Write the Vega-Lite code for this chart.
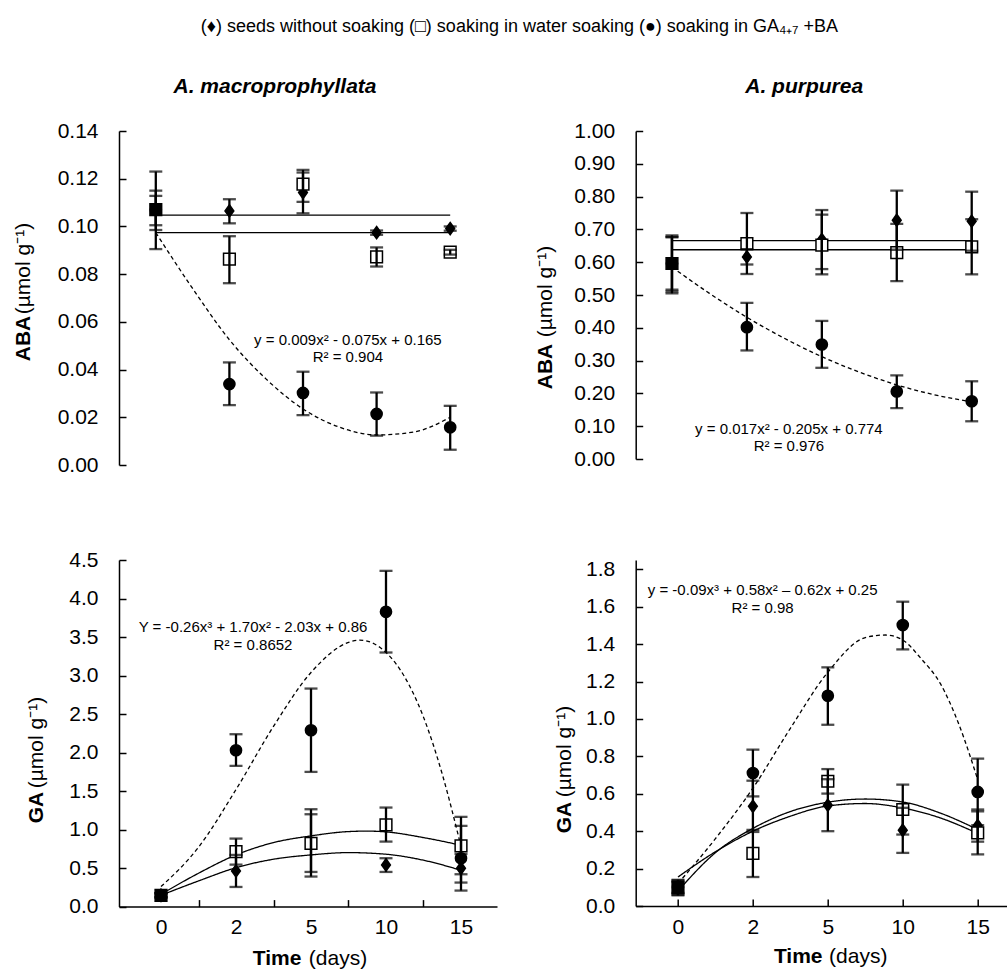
{
  "$schema": "https://vega.github.io/schema/vega-lite/v6.json",
  "padding": {"left": 12, "top": 18, "right": 0, "bottom": 0},
  "title": {"text": "(♦) seeds without soaking (□) soaking in water soaking (●) soaking in GA₄₊₇ +BA", "font": "Liberation Sans", "fontSize": 18, "fontWeight": "normal", "color": "black", "anchor": "middle", "offset": 40, "dx": 10},
  "datasets": {
    "pts": [
      {"p": "TL", "s": "D", "t": 1, "v": 0.107, "lo": 0.1005, "hi": 0.1128},
      {"p": "TL", "s": "D", "t": 2, "v": 0.1065, "lo": 0.1013, "hi": 0.1114},
      {"p": "TL", "s": "D", "t": 3, "v": 0.1142, "lo": 0.1055, "hi": 0.1226},
      {"p": "TL", "s": "D", "t": 4, "v": 0.0974, "lo": 0.0965, "hi": 0.0983},
      {"p": "TL", "s": "D", "t": 5, "v": 0.0991, "lo": 0.0982, "hi": 0.1},
      {"p": "TL", "s": "G", "t": 1, "v": 0.107, "lo": 0.0985, "hi": 0.115},
      {"p": "TL", "s": "G", "t": 2, "v": 0.0339, "lo": 0.0251, "hi": 0.043},
      {"p": "TL", "s": "G", "t": 3, "v": 0.0302, "lo": 0.0209, "hi": 0.0391},
      {"p": "TL", "s": "G", "t": 4, "v": 0.0214, "lo": 0.0123, "hi": 0.0304},
      {"p": "TL", "s": "G", "t": 5, "v": 0.0158, "lo": 0.0064, "hi": 0.0248},
      {"p": "TL", "s": "W", "t": 1, "v": 0.107, "lo": 0.0905, "hi": 0.123},
      {"p": "TL", "s": "W", "t": 2, "v": 0.0863, "lo": 0.0762, "hi": 0.0959},
      {"p": "TL", "s": "W", "t": 3, "v": 0.1177, "lo": 0.1103, "hi": 0.1237},
      {"p": "TL", "s": "W", "t": 4, "v": 0.0872, "lo": 0.0832, "hi": 0.0912},
      {"p": "TL", "s": "W", "t": 5, "v": 0.0892, "lo": 0.0882, "hi": 0.0902},
      {"p": "TR", "s": "D", "t": 1, "v": 0.596, "lo": 0.51, "hi": 0.682},
      {"p": "TR", "s": "D", "t": 2, "v": 0.616, "lo": 0.593, "hi": 0.639},
      {"p": "TR", "s": "D", "t": 3, "v": 0.669, "lo": 0.579, "hi": 0.759},
      {"p": "TR", "s": "D", "t": 4, "v": 0.728, "lo": 0.638, "hi": 0.818},
      {"p": "TR", "s": "D", "t": 5, "v": 0.725, "lo": 0.635, "hi": 0.815},
      {"p": "TR", "s": "G", "t": 1, "v": 0.596, "lo": 0.516, "hi": 0.676},
      {"p": "TR", "s": "G", "t": 2, "v": 0.402, "lo": 0.331, "hi": 0.476},
      {"p": "TR", "s": "G", "t": 3, "v": 0.349, "lo": 0.278, "hi": 0.421},
      {"p": "TR", "s": "G", "t": 4, "v": 0.206, "lo": 0.155, "hi": 0.255},
      {"p": "TR", "s": "G", "t": 5, "v": 0.176, "lo": 0.115, "hi": 0.237},
      {"p": "TR", "s": "W", "t": 1, "v": 0.596, "lo": 0.505, "hi": 0.677},
      {"p": "TR", "s": "W", "t": 2, "v": 0.657, "lo": 0.564, "hi": 0.75},
      {"p": "TR", "s": "W", "t": 3, "v": 0.652, "lo": 0.563, "hi": 0.745},
      {"p": "TR", "s": "W", "t": 4, "v": 0.629, "lo": 0.542, "hi": 0.717},
      {"p": "TR", "s": "W", "t": 5, "v": 0.647, "lo": 0.563, "hi": 0.731},
      {"p": "BL", "s": "D", "t": 1, "v": 0.147, "lo": 0.12, "hi": 0.175},
      {"p": "BL", "s": "D", "t": 2, "v": 0.463, "lo": 0.255, "hi": 0.671},
      {"p": "BL", "s": "D", "t": 3, "v": 0.825, "lo": 0.45, "hi": 1.199},
      {"p": "BL", "s": "D", "t": 4, "v": 0.541, "lo": 0.45, "hi": 0.628},
      {"p": "BL", "s": "D", "t": 5, "v": 0.498, "lo": 0.312, "hi": 0.684},
      {"p": "BL", "s": "G", "t": 1, "v": 0.147, "lo": 0.12, "hi": 0.175},
      {"p": "BL", "s": "G", "t": 2, "v": 2.03, "lo": 1.827, "hi": 2.238},
      {"p": "BL", "s": "G", "t": 3, "v": 2.29, "lo": 1.749, "hi": 2.831},
      {"p": "BL", "s": "G", "t": 4, "v": 3.827, "lo": 3.299, "hi": 4.359},
      {"p": "BL", "s": "G", "t": 5, "v": 0.628, "lo": 0.208, "hi": 1.048},
      {"p": "BL", "s": "W", "t": 1, "v": 0.147, "lo": 0.12, "hi": 0.175},
      {"p": "BL", "s": "W", "t": 2, "v": 0.714, "lo": 0.545, "hi": 0.883},
      {"p": "BL", "s": "W", "t": 3, "v": 0.822, "lo": 0.39, "hi": 1.264},
      {"p": "BL", "s": "W", "t": 4, "v": 1.06, "lo": 0.844, "hi": 1.286},
      {"p": "BL", "s": "W", "t": 5, "v": 0.788, "lo": 0.42, "hi": 1.165},
      {"p": "BR", "s": "D", "t": 1, "v": 0.1, "lo": 0.06, "hi": 0.14},
      {"p": "BR", "s": "D", "t": 2, "v": 0.533, "lo": 0.396, "hi": 0.67},
      {"p": "BR", "s": "D", "t": 3, "v": 0.539, "lo": 0.4, "hi": 0.678},
      {"p": "BR", "s": "D", "t": 4, "v": 0.405, "lo": 0.284, "hi": 0.525},
      {"p": "BR", "s": "D", "t": 5, "v": 0.43, "lo": 0.344, "hi": 0.516},
      {"p": "BR", "s": "G", "t": 1, "v": 0.1, "lo": 0.07, "hi": 0.13},
      {"p": "BR", "s": "G", "t": 2, "v": 0.711, "lo": 0.586, "hi": 0.836},
      {"p": "BR", "s": "G", "t": 3, "v": 1.124, "lo": 0.969, "hi": 1.276},
      {"p": "BR", "s": "G", "t": 4, "v": 1.502, "lo": 1.372, "hi": 1.627},
      {"p": "BR", "s": "G", "t": 5, "v": 0.61, "lo": 0.432, "hi": 0.788},
      {"p": "BR", "s": "W", "t": 1, "v": 0.098, "lo": 0.057, "hi": 0.137},
      {"p": "BR", "s": "W", "t": 2, "v": 0.281, "lo": 0.155, "hi": 0.407},
      {"p": "BR", "s": "W", "t": 3, "v": 0.667, "lo": 0.601, "hi": 0.732},
      {"p": "BR", "s": "W", "t": 4, "v": 0.516, "lo": 0.382, "hi": 0.649},
      {"p": "BR", "s": "W", "t": 5, "v": 0.391, "lo": 0.276, "hi": 0.506}
    ],
    "fits": [
      {"p": "TL", "s": "D", "t": 1, "v": 0.1047}, {"p": "TL", "s": "D", "t": 5, "v": 0.1047},
      {"p": "TL", "s": "W", "t": 1, "v": 0.0974}, {"p": "TL", "s": "W", "t": 5, "v": 0.0974},
      {"p": "TL", "s": "G", "t": 1, "v": 0.0974}, {"p": "TL", "s": "G", "t": 1.5, "v": 0.074},
      {"p": "TL", "s": "G", "t": 2, "v": 0.0525}, {"p": "TL", "s": "G", "t": 2.5, "v": 0.036},
      {"p": "TL", "s": "G", "t": 3, "v": 0.0235}, {"p": "TL", "s": "G", "t": 3.5, "v": 0.0158},
      {"p": "TL", "s": "G", "t": 4, "v": 0.0126}, {"p": "TL", "s": "G", "t": 4.5, "v": 0.0138},
      {"p": "TL", "s": "G", "t": 5, "v": 0.02},
      {"p": "TR", "s": "D", "t": 1, "v": 0.666}, {"p": "TR", "s": "D", "t": 5, "v": 0.666},
      {"p": "TR", "s": "W", "t": 1, "v": 0.638}, {"p": "TR", "s": "W", "t": 5, "v": 0.638},
      {"p": "TR", "s": "G", "t": 1, "v": 0.585}, {"p": "TR", "s": "G", "t": 1.5, "v": 0.505},
      {"p": "TR", "s": "G", "t": 2, "v": 0.432}, {"p": "TR", "s": "G", "t": 2.5, "v": 0.368},
      {"p": "TR", "s": "G", "t": 3, "v": 0.312}, {"p": "TR", "s": "G", "t": 3.5, "v": 0.265},
      {"p": "TR", "s": "G", "t": 4, "v": 0.226}, {"p": "TR", "s": "G", "t": 4.5, "v": 0.196},
      {"p": "TR", "s": "G", "t": 5, "v": 0.174},
      {"p": "BL", "s": "W", "t": 1, "v": 0.16}, {"p": "BL", "s": "W", "t": 1.5, "v": 0.433},
      {"p": "BL", "s": "W", "t": 2, "v": 0.671}, {"p": "BL", "s": "W", "t": 2.5, "v": 0.831},
      {"p": "BL", "s": "W", "t": 3, "v": 0.918}, {"p": "BL", "s": "W", "t": 3.5, "v": 0.974},
      {"p": "BL", "s": "W", "t": 3.75, "v": 0.98}, {"p": "BL", "s": "W", "t": 4, "v": 0.97},
      {"p": "BL", "s": "W", "t": 4.5, "v": 0.896}, {"p": "BL", "s": "W", "t": 5, "v": 0.797},
      {"p": "BL", "s": "D", "t": 1, "v": 0.147}, {"p": "BL", "s": "D", "t": 1.5, "v": 0.333},
      {"p": "BL", "s": "D", "t": 2, "v": 0.505}, {"p": "BL", "s": "D", "t": 2.5, "v": 0.615},
      {"p": "BL", "s": "D", "t": 3, "v": 0.671}, {"p": "BL", "s": "D", "t": 3.5, "v": 0.701},
      {"p": "BL", "s": "D", "t": 4, "v": 0.68}, {"p": "BL", "s": "D", "t": 4.5, "v": 0.602},
      {"p": "BL", "s": "D", "t": 5, "v": 0.472},
      {"p": "BL", "s": "G", "t": 1, "v": 0.26}, {"p": "BL", "s": "G", "t": 1.5, "v": 0.77},
      {"p": "BL", "s": "G", "t": 2, "v": 1.52}, {"p": "BL", "s": "G", "t": 2.5, "v": 2.34},
      {"p": "BL", "s": "G", "t": 3, "v": 3.04}, {"p": "BL", "s": "G", "t": 3.5, "v": 3.43},
      {"p": "BL", "s": "G", "t": 3.65, "v": 3.46}, {"p": "BL", "s": "G", "t": 4, "v": 3.3},
      {"p": "BL", "s": "G", "t": 4.25, "v": 2.98}, {"p": "BL", "s": "G", "t": 4.5, "v": 2.46},
      {"p": "BL", "s": "G", "t": 4.75, "v": 1.72}, {"p": "BL", "s": "G", "t": 5, "v": 0.78},
      {"p": "BR", "s": "W", "t": 1, "v": 0.08}, {"p": "BR", "s": "W", "t": 1.5, "v": 0.285},
      {"p": "BR", "s": "W", "t": 2, "v": 0.415}, {"p": "BR", "s": "W", "t": 2.5, "v": 0.505},
      {"p": "BR", "s": "W", "t": 3, "v": 0.555}, {"p": "BR", "s": "W", "t": 3.5, "v": 0.572},
      {"p": "BR", "s": "W", "t": 4, "v": 0.556}, {"p": "BR", "s": "W", "t": 4.5, "v": 0.497},
      {"p": "BR", "s": "W", "t": 5, "v": 0.409},
      {"p": "BR", "s": "D", "t": 1, "v": 0.155}, {"p": "BR", "s": "D", "t": 1.5, "v": 0.29},
      {"p": "BR", "s": "D", "t": 2, "v": 0.4}, {"p": "BR", "s": "D", "t": 2.5, "v": 0.48},
      {"p": "BR", "s": "D", "t": 3, "v": 0.535}, {"p": "BR", "s": "D", "t": 3.5, "v": 0.548},
      {"p": "BR", "s": "D", "t": 4, "v": 0.524}, {"p": "BR", "s": "D", "t": 4.5, "v": 0.471},
      {"p": "BR", "s": "D", "t": 5, "v": 0.388},
      {"p": "BR", "s": "G", "t": 1, "v": 0.12}, {"p": "BR", "s": "G", "t": 1.5, "v": 0.36},
      {"p": "BR", "s": "G", "t": 2, "v": 0.63}, {"p": "BR", "s": "G", "t": 2.5, "v": 0.95},
      {"p": "BR", "s": "G", "t": 3, "v": 1.25}, {"p": "BR", "s": "G", "t": 3.5, "v": 1.435},
      {"p": "BR", "s": "G", "t": 3.77, "v": 1.449}, {"p": "BR", "s": "G", "t": 4, "v": 1.422},
      {"p": "BR", "s": "G", "t": 4.25, "v": 1.32}, {"p": "BR", "s": "G", "t": 4.5, "v": 1.19},
      {"p": "BR", "s": "G", "t": 4.75, "v": 0.97}, {"p": "BR", "s": "G", "t": 5, "v": 0.676}
    ],
    "eqs": [
      {"p": "TL", "t": 3.61, "v": 0.0526, "text": "y = 0.009x² - 0.075x + 0.165\nR² = 0.904"},
      {"p": "TR", "t": 2.56, "v": 0.0917, "text": "y = 0.017x² - 0.205x + 0.774\nR² = 0.976"},
      {"p": "BL", "t": 2.227, "v": 3.626, "text": "Y = -0.26x³ + 1.70x² - 2.03x + 0.86\nR² = 0.8652"},
      {"p": "BR", "t": 2.13, "v": 1.689, "text": "y = -0.09x³ + 0.58x² – 0.62x + 0.25\nR² = 0.98"}
    ]
  },
  "concat": [
    {
      "width": 368, "height": 334,
      "title": {"text": "A. macroprophyllata", "font": "Liberation Sans", "fontSize": 21, "fontStyle": "italic", "fontWeight": "bold", "color": "black", "frame": "group", "anchor": "middle", "dx": -28, "offset": 6, "baseline": "alphabetic"},
      "resolve": {"axis": {"y": "independent"}},
      "layer": [
        {"data": {"name": "fits"}, "transform": [{"filter": "datum.p === 'TL'"}],
         "mark": {"type": "line", "interpolate": "monotone", "color": "black"},
         "encoding": {
           "x": {"field": "t", "type": "quantitative", "scale": {"domain": [0.5, 5.5], "nice": false, "zero": false},
                 "axis": {"title": null, "values": [1, 2, 3, 4, 5, 5.5], "labelExpr": "datum.value == 1 ? '0' : datum.value == 2 ? '2' : datum.value == 3 ? '5' : datum.value == 4 ? '10' : datum.value == 5 ? '15' : ''", "tickSize": -5, "labelPadding": 17, "labelOverlap": false, "labelFlush": false}},
           "y": {"field": "v", "type": "quantitative", "scale": {"domain": [0, 0.14], "nice": false, "zero": false},
                 "axis": {"values": [0, 0.02, 0.04, 0.06, 0.08, 0.1, 0.12, 0.14], "format": ".2f", "tickSize": -7, "labelPadding": 28, "title": "ABA", "titleFontWeight": "bold", "titleX": -90, "titleY": 207, "titleAngle": 270, "titleAlign": "center", "titleBaseline": "alphabetic"}},
           "detail": {"field": "s"},
           "strokeDash": {"field": "s", "type": "nominal", "scale": {"domain": ["D", "W", "G"], "range": [[1, 0], [1, 0], [4, 3]]}, "legend": null},
           "strokeWidth": {"field": "s", "type": "nominal", "scale": {"domain": ["D", "W", "G"], "range": [1.3, 1.3, 1.1]}, "legend": null}
         }},
        {"data": {"name": "pts"}, "transform": [{"filter": "datum.p === 'TL'"}],
         "mark": {"type": "point", "filled": true, "opacity": 1, "stroke": "black", "strokeWidth": 1.5},
         "encoding": {
           "x": {"field": "t", "type": "quantitative", "axis": null},
           "y": {"field": "v", "type": "quantitative", "axis": null},
           "shape": {"field": "s", "type": "nominal", "scale": {"domain": ["D", "W", "G"], "range": ["M0,-1L0.72,0L0,1L-0.72,0Z", "square", "circle"]}, "legend": null},
           "size": {"field": "s", "type": "nominal", "scale": {"domain": ["D", "W", "G"], "range": [150, 125, 135]}, "legend": null},
           "fill": {"condition": {"test": "datum.s === 'W' && datum.t !== 1", "value": "white"}, "value": "black"}
         }},
        {"data": {"name": "pts"}, "transform": [{"filter": "datum.p === 'TL'"}],
         "mark": {"type": "errorbar", "thickness": 2.3, "color": "black", "ticks": {"size": 13, "thickness": 2.3, "color": "black"}, "rule": {"color": "black", "strokeWidth": 2.3}},
         "encoding": {
           "x": {"field": "t", "type": "quantitative", "axis": null},
           "y": {"field": "lo", "type": "quantitative", "axis": null},
           "y2": {"field": "hi"}
         }},
        {"data": {"name": "eqs"}, "transform": [{"filter": "datum.p === 'TL'"}],
         "mark": {"type": "text", "font": "Liberation Sans", "fontSize": 15, "lineBreak": "\n", "lineHeight": 17.5, "align": "center", "baseline": "middle", "color": "black"},
         "encoding": {
           "x": {"field": "t", "type": "quantitative", "axis": null},
           "y": {"field": "v", "type": "quantitative", "axis": {"orient": "left", "title": "(µmol g⁻¹)", "labels": false, "ticks": false, "domain": false, "titleFontWeight": "normal", "titleX": -90, "titleY": 137, "titleAngle": 270, "titleAlign": "center", "titleBaseline": "alphabetic"}},
           "text": {"field": "text", "type": "nominal"}
         }}
      ]
    },
    {
      "width": 371, "height": 328,
      "title": {"text": "A. purpurea", "font": "Liberation Sans", "fontSize": 21, "fontStyle": "italic", "fontWeight": "bold", "color": "black", "frame": "group", "anchor": "middle", "dx": -17, "offset": 6, "baseline": "alphabetic"},
      "resolve": {"axis": {"y": "independent"}},
      "layer": [
        {"data": {"name": "fits"}, "transform": [{"filter": "datum.p === 'TR'"}],
         "mark": {"type": "line", "interpolate": "monotone", "color": "black"},
         "encoding": {
           "x": {"field": "t", "type": "quantitative", "scale": {"domain": [0.516, 5.467], "nice": false, "zero": false},
                 "axis": {"title": null, "values": [1, 1.5, 2, 2.5, 3, 3.5, 4, 4.5, 5], "labelExpr": "datum.value == 1 ? '0' : datum.value == 2 ? '2' : datum.value == 3 ? '5' : datum.value == 4 ? '10' : datum.value == 5 ? '15' : ''", "tickSize": -7, "tickOpacity": {"condition": {"test": "datum.value % 1 === 0", "value": 0}, "value": 1}, "labelPadding": 17, "labelOverlap": false, "labelFlush": false}},
           "y": {"field": "v", "type": "quantitative", "scale": {"domain": [0, 1], "nice": false, "zero": false},
                 "axis": {"values": [0, 0.1, 0.2, 0.3, 0.4, 0.5, 0.6, 0.7, 0.8, 0.9, 1], "format": ".2f", "tickSize": -7, "labelPadding": 28, "title": "ABA", "titleFontWeight": "bold", "titleX": -84, "titleY": 235, "titleAngle": 270, "titleAlign": "center", "titleBaseline": "alphabetic"}},
           "detail": {"field": "s"},
           "strokeDash": {"field": "s", "type": "nominal", "scale": {"domain": ["D", "W", "G"], "range": [[1, 0], [1, 0], [4, 3]]}, "legend": null},
           "strokeWidth": {"field": "s", "type": "nominal", "scale": {"domain": ["D", "W", "G"], "range": [1.3, 1.3, 1.1]}, "legend": null}
         }},
        {"data": {"name": "pts"}, "transform": [{"filter": "datum.p === 'TR'"}],
         "mark": {"type": "point", "filled": true, "opacity": 1, "stroke": "black", "strokeWidth": 1.5},
         "encoding": {
           "x": {"field": "t", "type": "quantitative", "axis": null},
           "y": {"field": "v", "type": "quantitative", "axis": null},
           "shape": {"field": "s", "type": "nominal", "scale": {"domain": ["D", "W", "G"], "range": ["M0,-1L0.72,0L0,1L-0.72,0Z", "square", "circle"]}, "legend": null},
           "size": {"field": "s", "type": "nominal", "scale": {"domain": ["D", "W", "G"], "range": [150, 125, 135]}, "legend": null},
           "fill": {"condition": {"test": "datum.s === 'W' && datum.t !== 1", "value": "white"}, "value": "black"}
         }},
        {"data": {"name": "pts"}, "transform": [{"filter": "datum.p === 'TR'"}],
         "mark": {"type": "errorbar", "thickness": 2.3, "color": "black", "ticks": {"size": 13, "thickness": 2.3, "color": "black"}, "rule": {"color": "black", "strokeWidth": 2.3}},
         "encoding": {
           "x": {"field": "t", "type": "quantitative", "axis": null},
           "y": {"field": "lo", "type": "quantitative", "axis": null},
           "y2": {"field": "hi"}
         }},
        {"data": {"name": "eqs"}, "transform": [{"filter": "datum.p === 'TR'"}],
         "mark": {"type": "text", "font": "Liberation Sans", "fontSize": 15, "lineBreak": "\n", "lineHeight": 17.5, "align": "center", "baseline": "middle", "color": "black"},
         "encoding": {
           "x": {"field": "t", "type": "quantitative", "axis": null},
           "y": {"field": "v", "type": "quantitative", "axis": {"orient": "left", "title": "(µmol g⁻¹)", "labels": false, "ticks": false, "domain": false, "titleFontWeight": "normal", "titleX": -84, "titleY": 160, "titleAngle": 270, "titleAlign": "center", "titleBaseline": "alphabetic"}},
           "text": {"field": "text", "type": "nominal"}
         }}
      ]
    },
    {
      "width": 378, "height": 346.6,
      "resolve": {"axis": {"x": "independent", "y": "independent"}},
      "layer": [
        {"data": {"name": "fits"}, "transform": [{"filter": "datum.p === 'BL'"}],
         "mark": {"type": "line", "interpolate": "monotone", "color": "black"},
         "encoding": {
           "x": {"field": "t", "type": "quantitative", "scale": {"domain": [0.44, 5.48], "nice": false, "zero": false},
                 "axis": {"values": [1, 1.5, 2, 2.5, 3, 3.5, 4, 4.5, 5], "labelExpr": "datum.value == 1 ? '0' : datum.value == 2 ? '2' : datum.value == 3 ? '5' : datum.value == 4 ? '10' : datum.value == 5 ? '15' : ''", "tickSize": -7, "tickOpacity": {"condition": {"test": "datum.value % 1 === 0", "value": 0}, "value": 1}, "labelPadding": 17, "labelOverlap": false, "labelFlush": false, "title": "Time", "titleFontWeight": "bold", "titleX": 157.5, "titleY": 58, "titleAlign": "center", "titleBaseline": "alphabetic"}},
           "y": {"field": "v", "type": "quantitative", "scale": {"domain": [0, 4.5], "nice": false, "zero": false},
                 "axis": {"values": [0, 0.5, 1, 1.5, 2, 2.5, 3, 3.5, 4, 4.5], "format": ".1f", "tickSize": -7, "labelPadding": 28, "title": "GA", "titleFontWeight": "bold", "titleX": -77, "titleY": 247, "titleAngle": 270, "titleAlign": "center", "titleBaseline": "alphabetic"}},
           "detail": {"field": "s"},
           "strokeDash": {"field": "s", "type": "nominal", "scale": {"domain": ["D", "W", "G"], "range": [[1, 0], [1, 0], [4, 3]]}, "legend": null},
           "strokeWidth": {"field": "s", "type": "nominal", "scale": {"domain": ["D", "W", "G"], "range": [1.3, 1.3, 1.1]}, "legend": null}
         }},
        {"data": {"name": "pts"}, "transform": [{"filter": "datum.p === 'BL'"}],
         "mark": {"type": "point", "filled": true, "opacity": 1, "stroke": "black", "strokeWidth": 1.5},
         "encoding": {
           "x": {"field": "t", "type": "quantitative", "axis": null},
           "y": {"field": "v", "type": "quantitative", "axis": null},
           "shape": {"field": "s", "type": "nominal", "scale": {"domain": ["D", "W", "G"], "range": ["M0,-1L0.72,0L0,1L-0.72,0Z", "square", "circle"]}, "legend": null},
           "size": {"field": "s", "type": "nominal", "scale": {"domain": ["D", "W", "G"], "range": [150, 125, 135]}, "legend": null},
           "fill": {"condition": {"test": "datum.s === 'W' && datum.t !== 1", "value": "white"}, "value": "black"}
         }},
        {"data": {"name": "pts"}, "transform": [{"filter": "datum.p === 'BL'"}],
         "mark": {"type": "errorbar", "thickness": 2.3, "color": "black", "ticks": {"size": 13, "thickness": 2.3, "color": "black"}, "rule": {"color": "black", "strokeWidth": 2.3}},
         "encoding": {
           "x": {"field": "t", "type": "quantitative", "axis": null},
           "y": {"field": "lo", "type": "quantitative", "axis": null},
           "y2": {"field": "hi"}
         }},
        {"data": {"name": "eqs"}, "transform": [{"filter": "datum.p === 'BL'"}],
         "mark": {"type": "text", "font": "Liberation Sans", "fontSize": 15, "lineBreak": "\n", "lineHeight": 17.5, "align": "center", "baseline": "middle", "color": "black"},
         "encoding": {
           "x": {"field": "t", "type": "quantitative", "axis": {"orient": "bottom", "title": "(days)", "labels": false, "ticks": false, "domain": false, "titleFontWeight": "normal", "titleX": 218.5, "titleY": 58, "titleAlign": "center", "titleBaseline": "alphabetic"}},
           "y": {"field": "v", "type": "quantitative", "axis": {"orient": "left", "title": "(µmol g⁻¹)", "labels": false, "ticks": false, "domain": false, "titleFontWeight": "normal", "titleX": -77, "titleY": 182, "titleAngle": 270, "titleAlign": "center", "titleBaseline": "alphabetic"}},
           "text": {"field": "text", "type": "nominal"}
         }}
      ]
    },
    {
      "width": 371, "height": 346,
      "resolve": {"axis": {"x": "independent", "y": "independent"}},
      "layer": [
        {"data": {"name": "fits"}, "transform": [{"filter": "datum.p === 'BR'"}],
         "mark": {"type": "line", "interpolate": "monotone", "color": "black"},
         "encoding": {
           "x": {"field": "t", "type": "quantitative", "scale": {"domain": [0.436, 5.387], "nice": false, "zero": false},
                 "axis": {"values": [1, 2, 3, 4, 5], "labelExpr": "datum.value == 1 ? '0' : datum.value == 2 ? '2' : datum.value == 3 ? '5' : datum.value == 4 ? '10' : datum.value == 5 ? '15' : ''", "tickSize": -7, "labelPadding": 17, "labelOverlap": false, "labelFlush": false, "title": "Time", "titleFontWeight": "bold", "titleX": 162, "titleY": 56, "titleAlign": "center", "titleBaseline": "alphabetic"}},
           "y": {"field": "v", "type": "quantitative", "scale": {"domain": [0, 1.85], "nice": false, "zero": false},
                 "axis": {"values": [0, 0.2, 0.4, 0.6, 0.8, 1, 1.2, 1.4, 1.6, 1.8], "format": ".1f", "tickSize": -7, "labelPadding": 28, "title": "GA", "titleFontWeight": "bold", "titleX": -65, "titleY": 257, "titleAngle": 270, "titleAlign": "center", "titleBaseline": "alphabetic"}},
           "detail": {"field": "s"},
           "strokeDash": {"field": "s", "type": "nominal", "scale": {"domain": ["D", "W", "G"], "range": [[1, 0], [1, 0], [6, 3]]}, "legend": null},
           "strokeWidth": {"field": "s", "type": "nominal", "scale": {"domain": ["D", "W", "G"], "range": [1.3, 1.3, 1.1]}, "legend": null}
         }},
        {"data": {"name": "pts"}, "transform": [{"filter": "datum.p === 'BR'"}],
         "mark": {"type": "point", "filled": true, "opacity": 1, "stroke": "black", "strokeWidth": 1.5},
         "encoding": {
           "x": {"field": "t", "type": "quantitative", "axis": null},
           "y": {"field": "v", "type": "quantitative", "axis": null},
           "shape": {"field": "s", "type": "nominal", "scale": {"domain": ["D", "W", "G"], "range": ["M0,-1L0.72,0L0,1L-0.72,0Z", "square", "circle"]}, "legend": null},
           "size": {"field": "s", "type": "nominal", "scale": {"domain": ["D", "W", "G"], "range": [150, 125, 135]}, "legend": null},
           "fill": {"condition": {"test": "datum.s === 'W' && datum.t !== 1", "value": "white"}, "value": "black"}
         }},
        {"data": {"name": "pts"}, "transform": [{"filter": "datum.p === 'BR'"}],
         "mark": {"type": "errorbar", "thickness": 2.3, "color": "black", "ticks": {"size": 13, "thickness": 2.3, "color": "black"}, "rule": {"color": "black", "strokeWidth": 2.3}},
         "encoding": {
           "x": {"field": "t", "type": "quantitative", "axis": null},
           "y": {"field": "lo", "type": "quantitative", "axis": null},
           "y2": {"field": "hi"}
         }},
        {"data": {"name": "eqs"}, "transform": [{"filter": "datum.p === 'BR'"}],
         "mark": {"type": "text", "font": "Liberation Sans", "fontSize": 15, "lineBreak": "\n", "lineHeight": 17.5, "align": "center", "baseline": "middle", "color": "black"},
         "encoding": {
           "x": {"field": "t", "type": "quantitative", "axis": {"orient": "bottom", "title": "(days)", "labels": false, "ticks": false, "domain": false, "titleFontWeight": "normal", "titleX": 222, "titleY": 56, "titleAlign": "center", "titleBaseline": "alphabetic"}},
           "y": {"field": "v", "type": "quantitative", "axis": {"orient": "left", "title": "(µmol g⁻¹)", "labels": false, "ticks": false, "domain": false, "titleFontWeight": "normal", "titleX": -65, "titleY": 191, "titleAngle": 270, "titleAlign": "center", "titleBaseline": "alphabetic"}},
           "text": {"field": "text", "type": "nominal"}
         }}
      ]
    }
  ],
  "columns": 2,
  "bounds": "flush",
  "align": "each",
  "spacing": {"row": 95, "column": 138.7},
  "config": {
    "font": "Liberation Sans",
    "view": {"stroke": null},
    "axis": {"grid": false, "domainColor": "black", "domainWidth": 1.5, "tickColor": "black", "tickWidth": 1.5, "labelColor": "black", "titleColor": "black", "labelFont": "Liberation Sans", "titleFont": "Liberation Sans", "labelFontSize": 21, "titleFontSize": 21, "labelFontWeight": "normal"}
  }
}
